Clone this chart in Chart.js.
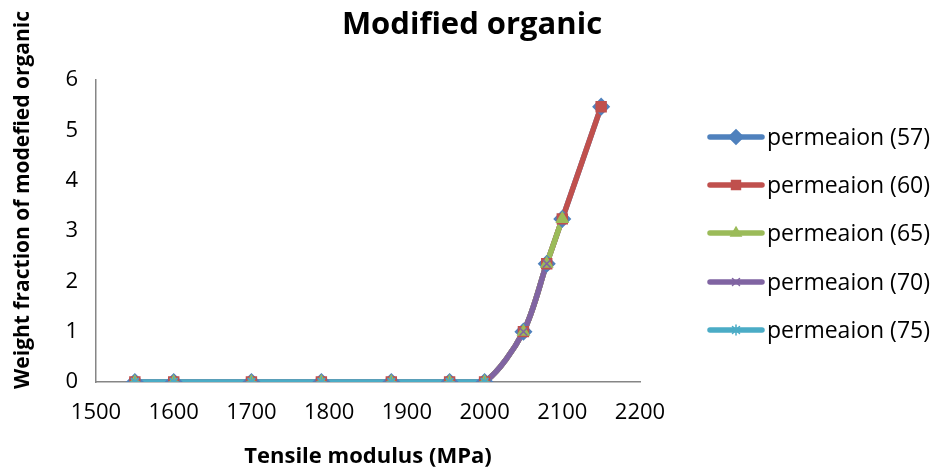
<!DOCTYPE html>
<html>
<head>
<meta charset="utf-8">
<script src="https://cdn.jsdelivr.net/npm/chart.js@4/dist/chart.umd.min.js"></script>
<style>
  html, body { margin: 0; padding: 0; background: #fff; }
  #wrap { width: 938px; height: 472px; }
</style>
</head>
<body>
<div id="wrap"><canvas id="chart" width="938" height="472"></canvas></div>
<script>
const FONT = '"Open Sans", Lato, sans-serif';

const modulus = [1550, 1600, 1700, 1790, 1880, 1955, 2000, 2050, 2080, 2100, 2150];
const perm57 = [0, 0, 0, 0, 0, 0, 0, 1.0, 2.35, 3.24, 5.47];
const perm60 = [0, 0, 0, 0, 0, 0, 0, 1.0, 2.35, 3.24, 5.47];
const perm65 = [0, 0, 0, 0, 0, 0, 0, 1.0, 2.35, 3.24];
const perm70 = [0, 0, 0, 0, 0, 0, 0, 1.0, 2.35];
const perm75 = [0, 0, 0, 0, 0, 0, 0];
const seriesNames = ['permeaion (57)', 'permeaion (60)', 'permeaion (65)', 'permeaion (70)', 'permeaion (75)'];
const xTicks = [1500, 1600, 1700, 1800, 1900, 2000, 2100, 2200];
const yTicks = [0, 1, 2, 3, 4, 5, 6];

const seriesValues = [perm57, perm60, perm65, perm70, perm75];
const colors = ['#4F81BD', '#C0504D', '#9BBB59', '#8064A2', '#4BACC6'];
const markers = [
  { pointStyle: 'rectRot', radius: 8 },
  { pointStyle: 'rect', radius: 7 },
  { pointStyle: 'triangle', radius: 6.5 },
  { pointStyle: 'crossRot', radius: 5.5 },
  { pointStyle: 'star', radius: 5.5 },
];

const toPoints = vals => vals.map((v, i) => ({ x: modulus[i], y: v }));

const datasets = [];
// all lines go under all markers, later series on top
seriesValues.forEach((vals, i) => {
  datasets.push({
    label: seriesNames[i],
    data: toPoints(vals),
    borderColor: colors[i],
    borderWidth: 5.5,
    tension: 0.3,
    pointRadius: 0,
    showLine: true,
    order: 20 - i,
  });
});
seriesValues.forEach((vals, i) => {
  datasets.push({
    label: seriesNames[i] + ' markers',
    data: toPoints(vals),
    showLine: false,
    pointStyle: markers[i].pointStyle,
    pointRadius: markers[i].radius,
    pointBackgroundColor: colors[i],
    pointBorderColor: colors[i],
    pointBorderWidth: 1.5,
    order: 10 - i,
  });
});

// title, y title (sits higher than the axis centre) and legend in Excel style
const extras = {
  id: 'extras',
  afterDraw(chart) {
    const ctx = chart.ctx;
    ctx.save();
    ctx.fillStyle = '#000';
    ctx.font = 'bold 31px ' + FONT;
    ctx.textAlign = 'center';
    ctx.textBaseline = 'middle';
    ctx.fillText('Modified organic', 472, 25);

    ctx.save();
    ctx.translate(23, 200);
    ctx.rotate(-Math.PI / 2);
    ctx.font = 'bold 21px ' + FONT;
    ctx.fillText('Weight fraction of modefied organic', 0, 0);
    ctx.restore();

    const legendY = [137, 185, 233, 282, 330];
    seriesNames.forEach((name, i) => {
      const y = legendY[i];
      ctx.strokeStyle = colors[i];
      ctx.lineWidth = 5.5;
      ctx.lineCap = 'round';
      ctx.beginPath();
      ctx.moveTo(710, y);
      ctx.lineTo(762, y);
      ctx.stroke();
      ctx.fillStyle = colors[i];
      ctx.lineWidth = 1.5;
      Chart.helpers.drawPoint(ctx, {
        pointStyle: markers[i].pointStyle,
        radius: markers[i].radius * 0.9,
        rotation: 0,
        borderWidth: 1.5,
      }, 736, y);
      ctx.fillStyle = '#000';
      ctx.font = '23px ' + FONT;
      ctx.textAlign = 'left';
      ctx.textBaseline = 'middle';
      ctx.fillText(name, 767, y + 1);
    });
    ctx.restore();
  }
};

new Chart(document.getElementById('chart'), {
  type: 'scatter',
  data: { datasets },
  options: {
    responsive: false,
    animation: false,
    devicePixelRatio: 1,
    layout: { padding: { top: 80, right: 298, left: 0, bottom: 0 } },
    plugins: {
      legend: { display: false },
      tooltip: { enabled: false },
      title: { display: false },
    },
    scales: {
      x: {
        type: 'linear',
        min: 1500,
        max: 2200,
        afterBuildTicks: axis => { axis.ticks = xTicks.map(v => ({ value: v })); },
        afterFit: axis => { axis.height = 90; },
        grid: { display: false, drawTicks: false },
        border: { display: true, color: '#868686', width: 1.5 },
        ticks: {
          color: '#000',
          font: { family: FONT, size: 22 },
          padding: 18,
          maxRotation: 0,
          callback: v => String(v),
        },
        title: {
          display: true,
          text: 'Tensile modulus (MPa)',
          color: '#000',
          font: { family: FONT, size: 22, weight: 'bold' },
          padding: { top: 0, bottom: 2 },
        },
      },
      y: {
        min: 0,
        max: 6,
        afterBuildTicks: axis => { axis.ticks = yTicks.map(v => ({ value: v })); },
        afterFit: axis => { axis.width = 96; },
        grid: { display: false, drawTicks: false },
        border: { display: true, color: '#868686', width: 1.5 },
        ticks: {
          color: '#000',
          font: { family: FONT, size: 22 },
          padding: 18,
          callback: v => String(v),
        },
      },
    },
  },
  plugins: [extras],
});
</script>
</body>
</html>
